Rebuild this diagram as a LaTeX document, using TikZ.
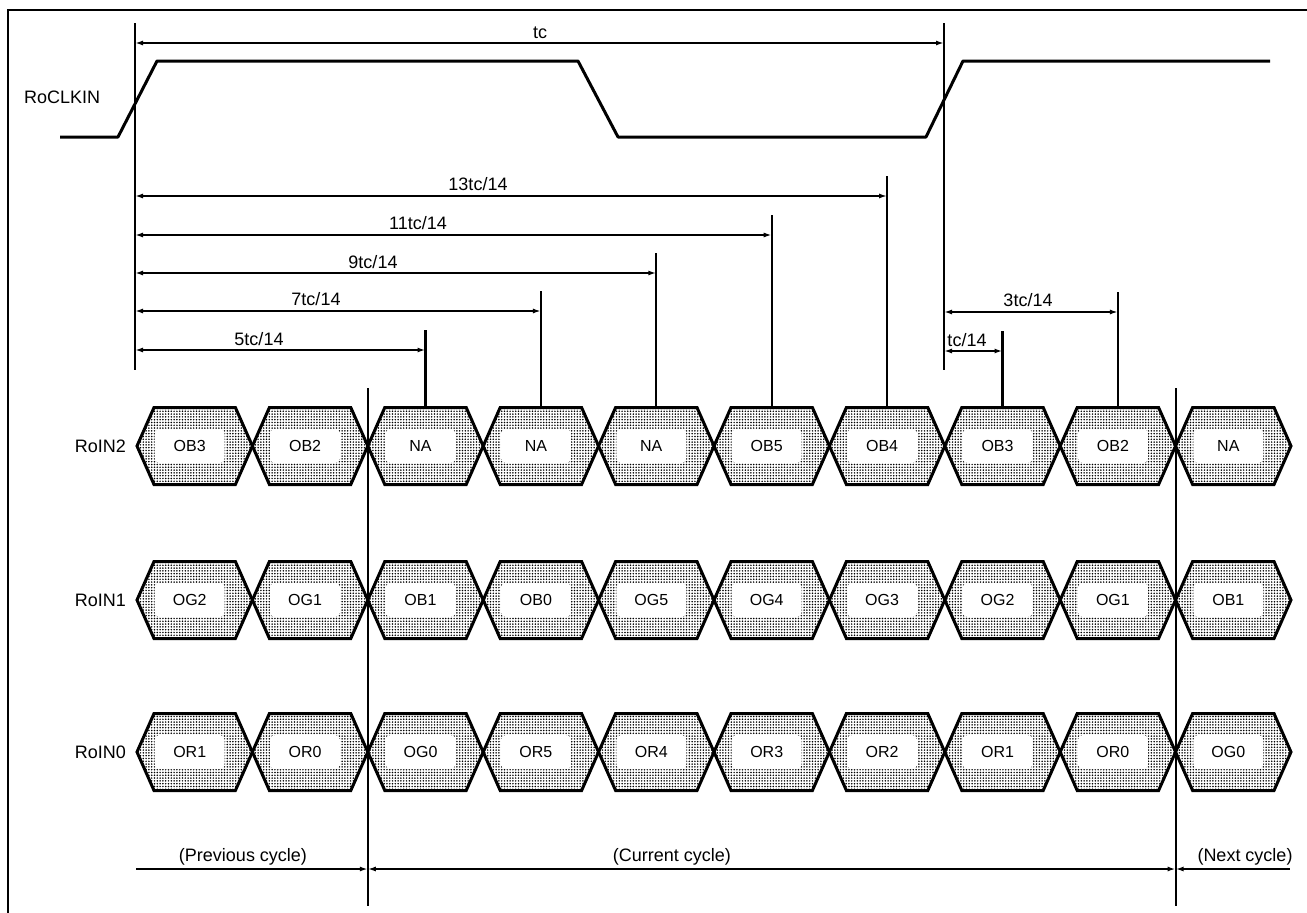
\documentclass[tikz,border=0pt]{standalone}
\usepackage{fontspec}
\setmainfont{Liberation Sans}
\usetikzlibrary{arrows.meta,patterns}
\pgfdeclarepatternformonly{hexdots}{\pgfqpoint{-1pt}{-1pt}}{\pgfqpoint{2pt}{2pt}}{\pgfqpoint{2.8pt}{2.8pt}}{\pgfpathcircle{\pgfqpoint{0.5pt}{0.5pt}}{0.85pt}\pgfusepath{fill}}
\tikzset{
  sigline/.style={line width=3pt, line join=round},
  frameline/.style={line width=1.3pt},
  vline/.style={line width=2.2pt},
  mainvline/.style={line width=2.8pt},
  dimline/.style={line width=2pt, {Latex[length=8pt,width=5pt]}-{Latex[length=8pt,width=5pt]}},
  endarrow/.style={line width=2pt, -{Latex[length=8pt,width=5pt]}},
  startarrow/.style={line width=2pt, {Latex[length=8pt,width=5pt]}-},
  hexbox/.style={minimum width=115.4pt, minimum height=77pt, inner sep=0pt, outer sep=0pt, draw=none},
  hexshape/.style={pattern=hexdots, draw, line width=3pt, line join=miter},
  hexin/.style={fill=white, rounded corners=5pt, minimum width=70pt, minimum height=34pt, inner sep=0pt, font=\fontsize{16}{18}\selectfont},
  dimlab/.style={inner sep=0pt, font=\fontsize{18}{20}\selectfont},
  siglab/.style={inner sep=0pt, font=\fontsize{18}{20}\selectfont},
  cyclab/.style={inner sep=0pt, font=\fontsize{18}{20}\selectfont}
}
\begin{document}
\begin{tikzpicture}[x=1pt,y=-1pt]
\useasboundingbox (0,0) rectangle (1307,913);
% frame
\coordinate (fbl) at (8,913);
\coordinate (ftl) at (8,10);
\coordinate (ftr) at (1307,10);
\draw[frameline] (fbl) -- (ftl) -- (ftr);

% clock
\node[siglab, anchor=west] (clk) at (24,97) {RoCLKIN};
\coordinate (k0) at (60,137);
\coordinate (k1) at (118,137);
\coordinate (k2) at (157,61);
\coordinate (k3) at (578,61);
\coordinate (k4) at (618,137);
\coordinate (k5) at (926,137);
\coordinate (k6) at (963,61);
\coordinate (k7) at (1270,61);
\draw[sigline] (k0) -- (k1) -- (k2) -- (k3) -- (k4) -- (k5) -- (k6) -- (k7);

% hexagon rows
\foreach \row/\yc/\labs in {2/446/{OB3,OB2,NA,NA,NA,OB5,OB4,OB3,OB2,NA},
                            1/600/{OG2,OG1,OB1,OB0,OG5,OG4,OG3,OG2,OG1,OB1},
                            0/752/{OR1,OR0,OG0,OR5,OR4,OR3,OR2,OR1,OR0,OG0}}{
  \foreach \lab [count=\i] in \labs {
    \pgfmathsetmacro{\cx}{137+115.4*(\i-0.5)}
    \node[hexbox] (h\row-\i) at (\cx,\yc) {};
    \path[hexshape] (h\row-\i.west) -- ([xshift=17pt]h\row-\i.north west) -- ([xshift=-17pt]h\row-\i.north east)
       -- (h\row-\i.east) -- ([xshift=-17pt]h\row-\i.south east) -- ([xshift=17pt]h\row-\i.south west) -- cycle;
    \node[hexin] (t\row-\i) at ([xshift=-5pt]h\row-\i.center) {\lab};
  }
  \node[siglab, anchor=east] (sig\row) at (126,\yc) {RoIN\row};
}

% main verticals
\coordinate (a0) at (135,23);
\coordinate (a1) at (135,370);
\draw[mainvline] (a0) -- (a1);
\coordinate (b0) at (944,23);
\coordinate (b1) at (944,370);
\draw[vline] (b0) -- (b1);

% tc
\coordinate (tcL) at (135,43);
\coordinate (tcR) at (944,43);
\draw[dimline] (tcL) -- (tcR);
\node[dimlab] (ltc) at (540,33) {tc};

% dimension verticals and arrows from left
\foreach \n/\hx/\yy/\lx/\ly/\txt in {13/7/196/478/184/{13tc/14},
                                     11/6/235/418/223/{11tc/14},
                                     9/5/273/373/262/{9tc/14},
                                     7/4/311/316/299/{7tc/14},
                                     5/3/350/259/339/{5tc/14}}{
  \coordinate (v\n) at ([yshift=20pt]h2-\hx.north |- 0,\yy);
  \draw[vline] (v\n) -- (h2-\hx.north);
  \coordinate (dl\n) at (a0 |- 0,\yy);
  \coordinate (dr\n) at (h2-\hx.north |- 0,\yy);
  \draw[dimline] (dl\n) -- (dr\n);
  \node[dimlab] (lab\n) at (\lx,\ly) {\txt};
}

% right dimensions
\foreach \n/\hx/\yy/\lx/\ly/\txt in {3/9/312/1028/300/{3tc/14},
                                     1/8/351/967/340/{tc/14}}{
  \coordinate (rv\n) at ([yshift=20pt]h2-\hx.north |- 0,\yy);
  \draw[vline] (rv\n) -- (h2-\hx.north);
  \coordinate (rl\n) at (b0 |- 0,\yy);
  \coordinate (rr\n) at (h2-\hx.north |- 0,\yy);
  \draw[dimline] (rl\n) -- (rr\n);
  \node[dimlab] (rlab\n) at (\lx,\ly) {\txt};
}

% cycle boundaries
\coordinate (c1t) at (367.8,388);
\coordinate (c1b) at (367.8,906);
\coordinate (c2t) at (1175.6,388);
\coordinate (c2b) at (1175.6,906);
\draw[vline] (c1t) -- (c1b);
\draw[vline] (c2t) -- (c2b);
\coordinate (p0) at (136,869);
\coordinate (p1) at (c1t |- 0,869);
\coordinate (p2) at (c2t |- 0,869);
\coordinate (p3) at (1290,869);
\draw[endarrow] (p0) -- (p1);
\draw[dimline] (p1) -- (p2);
\draw[startarrow] (p2) -- (p3);
\node[cyclab] (prev) at (243,857) {(Previous cycle)};
\node[cyclab] (curr) at (672,857) {(Current cycle)};
\node[cyclab] (next) at (1245,857) {(Next cycle)};
\end{tikzpicture}
\end{document}
